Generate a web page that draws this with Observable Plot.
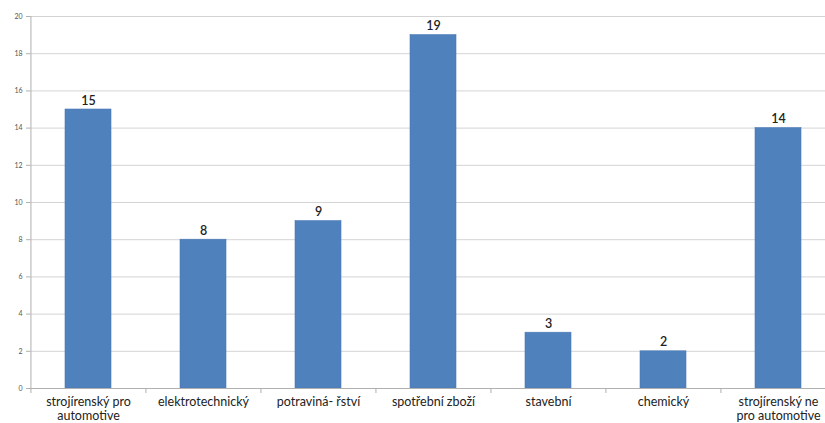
<!DOCTYPE html>
<html>
<head>
<meta charset="utf-8">
<script src="https://cdn.jsdelivr.net/npm/d3@7"></script>
<script src="https://cdn.jsdelivr.net/npm/@observablehq/plot@0.6"></script>
<style>
  html, body { margin: 0; padding: 0; background: #fff; overflow: hidden; }
  #chart svg { display: block; }
</style>
</head>
<body>
<div id="chart"></div>
<script>
// Number of companies by industry sector
const categories = [
  "strojírenský pro\nautomotive",
  "elektrotechnický",
  "potraviná- řství",
  "spotřební zboží",
  "stavební",
  "chemický",
  "strojírenský ne\npro automotive"
];
const values = [15, 8, 9, 19, 3, 2, 14];
const yTicks = [0, 2, 4, 6, 8, 10, 12, 14, 16, 18, 20];

const data = categories.map((c, i) => ({category: c, value: values[i]}));

const W = 825, H = 423;
const xLeft = 30, xRight = 836; // last band runs past the right edge
const step = (xRight - xLeft) / categories.length;

const chart = Plot.plot({
  width: W,
  height: H,
  marginLeft: xLeft,
  marginRight: 0,
  marginTop: 16,
  marginBottom: 35,
  style: {fontFamily: "Lato, 'Open Sans', sans-serif", background: "#fff"},
  x: {domain: categories, range: [xLeft, xRight], paddingInner: 0.6, paddingOuter: 0.3, axis: null},
  y: {domain: [0, 20], axis: null},
  marks: [
    // horizontal gridlines
    Plot.ruleY(yTicks.filter(d => d > 0), {stroke: "#d4d4d4", strokeWidth: 1}),
    // y tick marks and labels
    Plot.axisY({ticks: yTicks, tickSize: 4, tickPadding: 4, stroke: "#b0b0b0",
      fontSize: 7, fill: "#555", tickFormat: d => d, label: null}),
    // bars
    Plot.barY(data, {x: "category", y: "value", fill: "#4f81bd", stroke: "#4a7ab6", strokeWidth: 0.6}),
    // value labels
    Plot.text(data, {x: "category", y: "value", text: d => String(d.value), dy: -9,
      fontSize: 12.5, fontWeight: 600, fill: "#222"}),
    // vertical axis line
    Plot.ruleX([0], {x: () => categories[0], dx: -step / 2, y1: -0.27, y2: 20, stroke: "#b0b0b0"}),
    // baseline
    Plot.ruleY([0], {stroke: "#b0b0b0", strokeWidth: 1}),
    // category separator ticks below the baseline
    Plot.ruleX(categories.slice(1), {x: d => d, dx: -step / 2, y1: 0, y2: -0.27, stroke: "#b0b0b0"}),
    // category labels
    Plot.text(data, {x: "category", y: 0, text: "category", lineAnchor: "top",
      dy: 8, fontSize: 12.5, lineHeight: 1.12, fill: "#222"})
  ]
});

document.getElementById("chart").appendChild(chart);
</script>
</body>
</html>
